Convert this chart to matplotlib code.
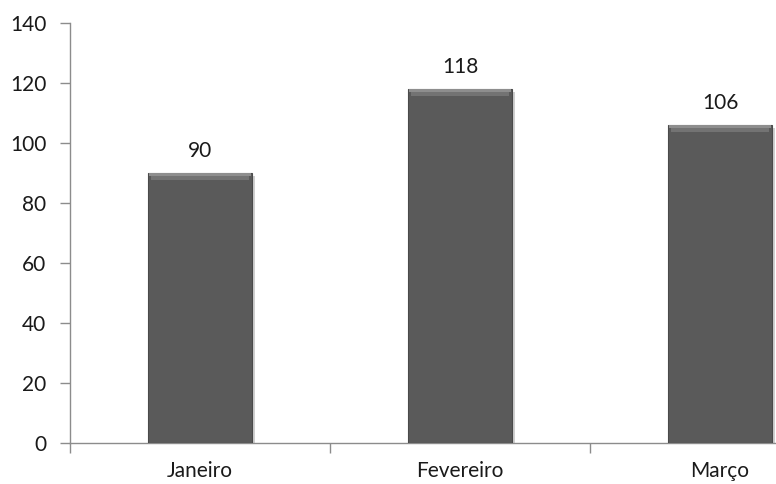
import matplotlib
matplotlib.use("Agg")
import matplotlib.pyplot as plt
import matplotlib.patheffects as pe

# data
meses = ["Janeiro", "Fevereiro", "Março"]
valores = [90, 118, 106]
y_ticks = [0, 20, 40, 60, 80, 100, 120, 140]

plt.rcParams['font.family'] = ['Lato', 'DejaVu Sans']

fig = plt.figure(figsize=(7.76, 4.84), dpi=100)
# the original chart is cropped on the right, so the axes run past the figure edge
ax = fig.add_axes([70 / 776, 41 / 484, 780 / 776, 420 / 484])

x = list(range(len(meses)))
bars = ax.bar(x, valores, width=0.4, color="#5a5a5a", edgecolor="#4a4a4a", linewidth=0.8, zorder=3)
for b in bars:
    b.set_path_effects([pe.SimplePatchShadow(offset=(2, -2), shadow_rgbFace="#a0a0a0", alpha=0.5), pe.Normal()])

# lighter bevel at the top of each bar (two steps for a soft gradient)
ax.bar(x, [1.3] * len(valores), bottom=[v - 2.4 for v in valores], width=0.38,
       color="#737373", linewidth=0, zorder=4)
ax.bar(x, [1.1] * len(valores), bottom=[v - 1.1 for v in valores], width=0.39,
       color="#8e8e8e", linewidth=0, zorder=4)

for xi, v in zip(x, valores):
    ax.text(xi, v + 4, str(v), ha="center", va="bottom", fontsize=15, color="#1a1a1a")

ax.set_xlim(-0.5, 2.5)
ax.set_ylim(0, 140)
ax.set_yticks(y_ticks)
ax.set_xticks(x)
ax.set_xticklabels(meses)
ax.set_xticks([-0.5, 0.5, 1.5, 2.5], minor=True)

for s in ["top", "right"]:
    ax.spines[s].set_visible(False)
for s in ["left", "bottom"]:
    ax.spines[s].set_color("#8c8c8c")
    ax.spines[s].set_linewidth(1.0)

ax.tick_params(axis="y", length=7, width=1, color="#8c8c8c", pad=10, labelsize=15, labelcolor="#1a1a1a")
ax.tick_params(axis="x", which="major", length=0, pad=13, labelsize=15, labelcolor="#1a1a1a")
ax.tick_params(axis="x", which="minor", length=7, width=1, color="#8c8c8c")

fig.savefig("out.png", dpi=100)
